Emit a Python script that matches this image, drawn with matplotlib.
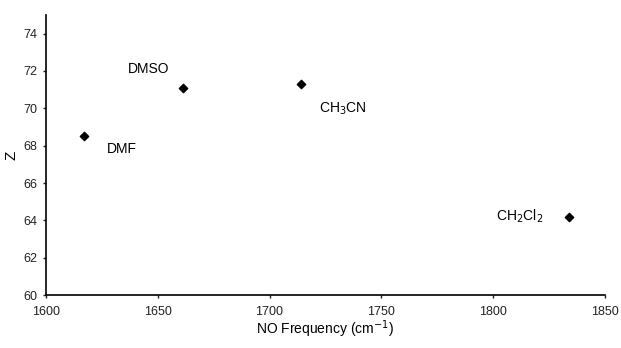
import matplotlib
matplotlib.use("Agg")
import matplotlib.pyplot as plt

solvents = ["DMF", "DMSO", "CH$_3$CN", "CH$_2$Cl$_2$"]
no_freq = [1617, 1661.5, 1714, 1834]
z_vals = [68.5, 71.1, 71.3, 64.2]
label_pos = [(1634, 67.8), (1646, 72.1), (1733, 70.0), (1812, 64.2)]
xticks = [1600, 1650, 1700, 1750, 1800, 1850]
yticks = [60, 62, 64, 66, 68, 70, 72, 74]

plt.rcParams['font.family'] = ['Liberation Sans', 'DejaVu Sans']
fig = plt.figure(figsize=(6.21, 3.48), dpi=100)
ax = fig.add_axes([0.074, 0.152, 0.900, 0.805])
ax.scatter(no_freq, z_vals, marker='D', s=18, color='black', zorder=3)
for name, (lx, ly) in zip(solvents, label_pos):
    ax.text(lx, ly, name, fontsize=10, ha='center', va='center')
ax.set_xlim(1600, 1850)
ax.set_ylim(60, 75)
ax.set_xticks(xticks)
ax.set_yticks(yticks)
ax.spines['top'].set_visible(False)
ax.spines['right'].set_visible(False)
ax.spines['left'].set_linewidth(1.2)
ax.spines['bottom'].set_linewidth(1.2)
ax.tick_params(axis='both', length=2, width=1, labelsize=9, colors='#222222')
ax.tick_params(axis='x', pad=6)
ax.tick_params(axis='y', pad=4)
ax.set_xlabel("NO Frequency (cm$^{-1}$)", fontsize=10, labelpad=0)
ax.set_ylabel("Z", fontsize=11, rotation=90, labelpad=4)
fig.savefig("out.png", dpi=100)
